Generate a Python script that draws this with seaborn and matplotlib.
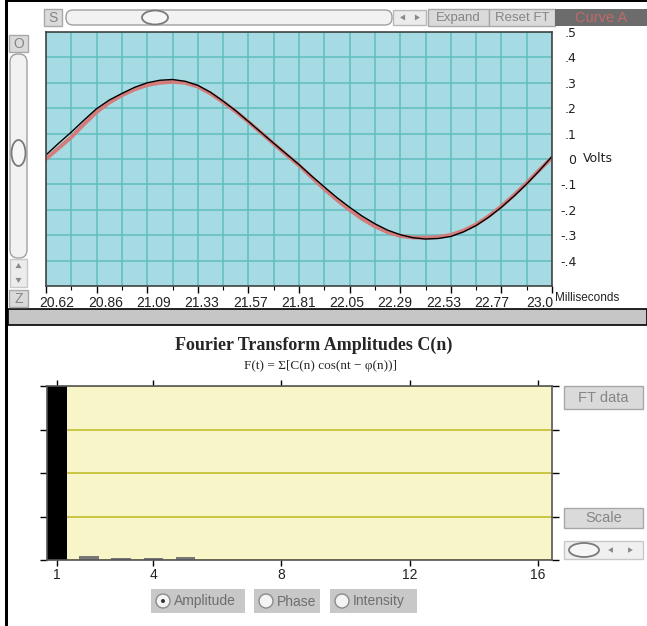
import numpy as np
import pandas as pd
import matplotlib
matplotlib.use("Agg")
import matplotlib.pyplot as plt
import matplotlib.transforms as mtransforms
from matplotlib.patches import Rectangle, FancyBboxPatch, Ellipse, Polygon
import seaborn as sns

# ---- oscilloscope trace, 41 samples across the 20.62 - 23.0 ms window ----
time_ms = np.linspace(20.62, 23.0, 41)
curve_a = [0.000, 0.043, 0.086, 0.137, 0.185, 0.222, 0.251, 0.274, 0.291, 0.300,
           0.304, 0.300, 0.285, 0.258, 0.224, 0.187, 0.146, 0.103, 0.060, 0.017,
           -0.025, -0.072, -0.118, -0.161, -0.200, -0.236, -0.265, -0.288, -0.303, -0.309,
           -0.310, -0.307, -0.299, -0.282, -0.258, -0.225, -0.186, -0.142, -0.094, -0.043,
           0.005]
ft_sum = [0.016, 0.062, 0.106, 0.153, 0.198, 0.232, 0.258, 0.282, 0.300, 0.310,
          0.313, 0.306, 0.290, 0.263, 0.228, 0.190, 0.148, 0.105, 0.062, 0.020,
          -0.022, -0.067, -0.110, -0.152, -0.190, -0.225, -0.255, -0.280, -0.298, -0.310,
          -0.315, -0.313, -0.305, -0.287, -0.262, -0.229, -0.190, -0.146, -0.098, -0.046,
          0.010]

time_ticks = np.linspace(20.62, 23.0, 11)
time_grid = np.linspace(20.62, 23.0, 21)
time_labels = ["20.62", "20.86", "21.09", "21.33", "21.57", "21.81",
               "22.05", "22.29", "22.53", "22.77", "23.0"]
volt_ticks = [0.5, 0.4, 0.3, 0.2, 0.1, 0.0, -0.1, -0.2, -0.3, -0.4, -0.5]
volt_labels = [".5", ".4", ".3", ".2", ".1", "0", "-.1", "-.2", "-.3", "-.4", ""]

# ---- Fourier amplitudes C(n) ----
harmonic = list(range(1, 17))
amplitude = [0.313, 0.0072, 0.0036, 0.0036, 0.0054, 0, 0, 0, 0, 0, 0, 0, 0, 0, 0, 0]
harmonic_ticks = [1, 4, 8, 12, 16]

W, H = 647, 626
sns.set_style("ticks")
plt.rcParams["font.family"] = ["Liberation Sans", "DejaVu Sans"]

fig = plt.figure(figsize=(W / 100, H / 100), dpi=100)
fig.patch.set_facecolor("white")
# pixel coordinates, origin top-left
pix = mtransforms.Affine2D().scale(1 / W, -1 / H).translate(0, 1) + fig.transFigure

BTN_FACE, BTN_EDGE, BTN_TEXT = "#dadada", "#a8a8a8", "#858585"


def rect(x0, y0, x1, y1, face, edge="none", lw=1.0, z=1):
    p = Rectangle((x0, y0), x1 - x0, y1 - y0, transform=pix, facecolor=face,
                  edgecolor=edge, linewidth=lw, zorder=z)
    fig.add_artist(p)


def capsule(x0, y0, x1, y1, r, face="#f2f2f2", edge="#a0a0a0"):
    p = FancyBboxPatch((x0 + r, y0 + r), x1 - x0 - 2 * r, y1 - y0 - 2 * r,
                       boxstyle=f"round,pad={r},rounding_size={r}", transform=pix,
                       facecolor=face, edgecolor=edge, linewidth=1.0)
    fig.add_artist(p)


def knob(cx, cy, w, h):
    fig.add_artist(Ellipse((cx, cy), w, h, transform=pix, facecolor="#f6f6f6",
                           edgecolor="#7a7a7a", linewidth=1.3))


def tri(cx, cy, direction, s=3.0):
    if direction == "left":
        pts = [(cx - s, cy), (cx + s * 0.7, cy - s), (cx + s * 0.7, cy + s)]
    elif direction == "right":
        pts = [(cx + s, cy), (cx - s * 0.7, cy - s), (cx - s * 0.7, cy + s)]
    elif direction == "up":
        pts = [(cx, cy - s), (cx - s, cy + s * 0.7), (cx + s, cy + s * 0.7)]
    else:
        pts = [(cx, cy + s), (cx - s, cy - s * 0.7), (cx + s, cy - s * 0.7)]
    fig.add_artist(Polygon(pts, closed=True, transform=pix, facecolor="#8a8a8a",
                           edgecolor="none"))


def label(x, y, s, size=9.5, color=BTN_TEXT, ha="center", **kw):
    fig.text(x, y, s, transform=pix, fontsize=size, color=color, ha=ha,
             va="center", **kw)


def button(x0, y0, x1, y1, s, size=9.5):
    rect(x0, y0, x1, y1, BTN_FACE, BTN_EDGE)
    label((x0 + x1) / 2, (y0 + y1) / 2 + 0.5, s, size=size)


# ---- window frame ----
rect(6, 0, W, 2.0, "black")
rect(5, 0, 7.5, H, "black")
rect(7.5, 309, W, 325, "#c6c6c6", "black", lw=1.2)

# ---- top toolbar ----
button(44, 9, 62, 26, "S", size=10)
capsule(66, 10, 392, 25, 7)
knob(155, 17.5, 26, 14)
rect(393, 10, 426, 25, "#ececec", "#b8b8b8")
tri(403, 17.5, "left")
tri(417, 17.5, "right")
button(428, 9, 489, 26, "Expand")
button(489, 9, 555, 26, "Reset FT")
rect(555, 9, W, 26, "#6c6c6c")
label(601, 17.5, "Curve A", size=10.5, color="#c26a6a")

# ---- left control column ----
button(9, 35, 28, 52, "O", size=10)
capsule(10, 54, 27, 258, 8)
knob(18.5, 153, 14, 26)
rect(10, 259, 27, 287, "#ececec", "#c8c8c8")
tri(18.5, 266, "up")
tri(18.5, 280, "down")
button(9, 290, 28, 307, "Z", size=10)

# ---- oscilloscope panel ----
ax1 = fig.add_axes([46 / W, 1 - 286 / H, 506 / W, 254 / H])
ax1.set_facecolor("#a7dbe4")
sns.lineplot(x=time_ms, y=curve_a, ax=ax1, color="#d47c7c", lw=2.8, sort=False)
sns.lineplot(x=time_ms, y=ft_sum, ax=ax1, color="black", lw=1.0, sort=False)
ax1.set_xlim(20.62, 23.0)
ax1.set_ylim(-0.5, 0.5)
ax1.set_xticks(time_ticks, time_labels)
ax1.set_xticks(time_grid, minor=True)
ax1.set_yticks(volt_ticks, volt_labels)
ax1.yaxis.tick_right()
ax1.set_axisbelow(True)
ax1.grid(True, which="both", color="#5ebebe", lw=1.1)
ax1.tick_params(axis="x", which="major", length=5, width=1.0, color="black",
                labelsize=10, pad=2, labelcolor="#222222")
ax1.tick_params(axis="x", which="minor", length=3, width=0.8, color="black")
ax1.tick_params(axis="y", which="both", length=0, pad=17.5, labelsize=9,
                labelcolor="#222222")
for t in ax1.get_yticklabels():
    t.set_horizontalalignment("right")
    t.set_fontfamily(["DejaVu Sans"])
for s in ax1.spines.values():
    s.set_color("#444444")
    s.set_linewidth(1.2)
ax1.set_xlabel("")
ax1.set_ylabel("")
# tick labels are spread evenly from just right of the first tick to just left of the last
for i, tk in enumerate(ax1.xaxis.get_major_ticks()):
    dx = (11 - 2.3 * i) / 100
    tk.label1.set_transform(tk.label1.get_transform() +
                            mtransforms.ScaledTranslation(dx, 0, fig.dpi_scale_trans))
label(555, 298, "Milliseconds", size=8.5, color="#222222", ha="left")
fig.text(583, 158, "Volts", transform=pix, fontsize=9, color="#222222",
         ha="left", va="center", family=["DejaVu Sans"])

# ---- Fourier panel ----
fig.text(314, 345, "Fourier Transform Amplitudes C(n)", transform=pix,
         fontsize=13, weight="bold", ha="center", va="center",
         family=["Liberation Serif", "DejaVu Serif"])
fig.text(321, 366, "F(t) = \u03a3[C(n) cos(nt \u2212 \u03c6(n))]", transform=pix,
         fontsize=9.5, ha="center", va="center",
         family=["Liberation Serif", "DejaVu Serif"])

ax2 = fig.add_axes([46.7 / W, 1 - 560 / H, 505.3 / W, 174 / H])
ax2.set_facecolor("#f8f6c9")
df_ft = pd.DataFrame({"n": harmonic, "C": amplitude,
                      "kind": ["fundamental"] + ["harmonic"] * 15})
sns.barplot(data=df_ft, x="n", y="C", hue="kind",
            palette={"fundamental": "black", "harmonic": "#777777"},
            native_scale=True, width=0.6, dodge=False, legend=False,
            saturation=1, linewidth=0, ax=ax2)
top = max(amplitude)
ax2.set_xlim(0.68, 16.44)
ax2.set_ylim(0, top)
ax2.set_xticks(harmonic_ticks, [str(v) for v in harmonic_ticks])
ax2.set_yticks(np.linspace(0, top, 5), [""] * 5)
ax2.set_axisbelow(True)
ax2.yaxis.grid(True, color="#c6c236", lw=1.3)
ax2.xaxis.grid(False)
ax2.tick_params(axis="x", bottom=True, top=True, direction="out", length=4,
                width=1.0, color="black", labelsize=10, pad=1.5,
                labelcolor="#222222")
ax2.tick_params(axis="y", left=True, right=True, direction="out", length=5,
                width=1.0, color="black")
for s in ax2.spines.values():
    s.set_color("#555555")
    s.set_linewidth(1.2)
ax2.set_xlabel("")
ax2.set_ylabel("")

# ---- Fourier panel controls ----
button(564, 386, 643, 409, "FT data", size=10.5)
button(564, 508, 643, 528, "Scale", size=10.5)
rect(564, 541, 643, 559, "#f0f0f0", "#c8c8c8")
knob(584, 550, 30, 14)
tri(611, 550, "left", s=2.8)
tri(630, 550, "right", s=2.8)

for x0, x1, txt, on in [(151, 245, "Amplitude", True), (254, 320, "Phase", False),
                        (330, 417, "Intensity", False)]:
    rect(x0, 589, x1, 613, "#c8c8c8")
    fig.add_artist(Ellipse((x0 + 12, 601), 14, 14, transform=pix,
                           facecolor="#f4f4f4", edgecolor="#8a8a8a", linewidth=1.0))
    if on:
        fig.add_artist(Ellipse((x0 + 12, 601), 4, 4, transform=pix,
                               facecolor="#333333", edgecolor="none"))
    label(x0 + 23, 601.5, txt, size=10, color="#6e6e6e", ha="left")

fig.savefig("out.png", dpi=100, facecolor="white")
